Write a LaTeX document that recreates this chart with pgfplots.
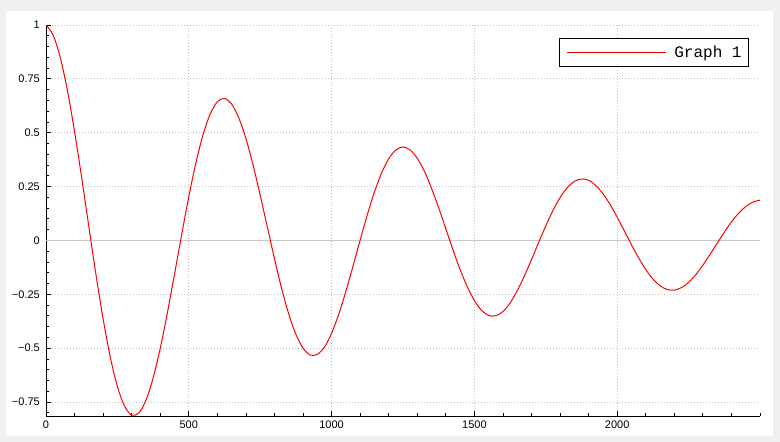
\documentclass[border=0pt]{standalone}
\usepackage{fontspec}
\setmainfont{Liberation Sans}
\newfontfamily\legfont{Liberation Mono}
\usepackage{pgfplots}
\pgfplotsset{compat=1.18}
\definecolor{bgout}{HTML}{F0F0F0}
\definecolor{gridc}{HTML}{C0C0C0}
\definecolor{zeroc}{HTML}{C8C8C8}
\begin{document}
\begin{tikzpicture}
\fill[bgout] (0,0) rectangle (780bp,442bp);
\fill[white] (6bp,6bp) rectangle (773bp,431bp);
\begin{axis}[
 scale only axis, width=714bp, height=391bp,
 at={(46bp,26bp)}, anchor=south west,
 xmin=0, xmax=2500, ymin=-0.815, ymax=1,
 axis x line*=bottom, axis y line*=left,
 axis line style={black, line width=1bp},
 tick align=inside,
 xtick={0,500,1000,1500,2000}, xticklabels={0,500,1000,1500,2000},
 ytick={-0.75,-0.5,-0.25,0,0.25,0.5,0.75,1},
 yticklabels={−0.75,−0.5,−0.25,0,0.25,0.5,0.75,1},
 minor xtick={0,100,...,2500},
 minor ytick={-0.8,-0.75,...,1.0},
 major tick length=5bp, minor tick length=3bp,
 tick style={black, line width=0.8bp},
 grid=major,
 major grid style={gridc, line width=0.8bp, dash pattern=on 1bp off 2bp},
 extra y ticks={0}, extra y tick labels={},
 extra y tick style={grid=major, major grid style={zeroc, solid, line width=1bp}, major tick length=0pt},
 tick label style={font=\fontsize{11bp}{13bp}\selectfont},
 yticklabel style={inner sep=0pt, xshift=-6bp},
 xticklabel style={inner sep=0pt, yshift=-5bp},
 legend style={at={(0.9846,0.9668)}, anchor=north east, draw=black, line width=0.8bp, fill=white,
   font=\legfont\fontsize{16bp}{18bp}\selectfont, inner xsep=7bp, inner ysep=7.5bp, column sep=8bp,
   nodes={inner sep=0pt}},
 legend image code/.code={\draw[red, line width=1bp] (0bp,0bp) -- (99bp,0bp);},
]
\addplot[red, line width=1bp, smooth] coordinates {
(0,1.000)(25,0.953)(50,0.849)(75,0.696)(100,0.505)(125,0.290)(150,0.064)(175,-0.159)(200,-0.364)(225,-0.541)
(250,-0.678)(275,-0.769)(300,-0.811)(325,-0.801)(350,-0.742)(375,-0.639)(400,-0.501)(425,-0.336)(450,-0.156)(475,0.027)
(500,0.203)(525,0.361)(550,0.491)(575,0.587)(600,0.644)(625,0.659)(650,0.633)(675,0.569)(700,0.473)(725,0.350)
(750,0.210)(775,0.062)(800,-0.085)(825,-0.223)(850,-0.342)(875,-0.436)(900,-0.500)(925,-0.532)(950,-0.529)(975,-0.495)
(1000,-0.431)(1025,-0.343)(1050,-0.236)(1075,-0.119)(1100,0.002)(1125,0.119)(1150,0.225)(1175,0.313)(1200,0.379)(1225,0.420)
(1250,0.434)(1275,0.420)(1300,0.381)(1325,0.321)(1350,0.242)(1375,0.151)(1400,0.054)(1425,-0.044)(1450,-0.135)(1475,-0.215)
(1500,-0.279)(1525,-0.325)(1550,-0.348)(1575,-0.350)(1600,-0.330)(1625,-0.290)(1650,-0.234)(1675,-0.165)(1700,-0.089)(1725,-0.009)
(1750,0.068)(1775,0.139)(1800,0.199)(1825,0.245)(1850,0.274)(1875,0.285)(1900,0.279)(1925,0.255)(1950,0.217)(1975,0.167)
(2000,0.108)(2025,0.044)(2050,-0.020)(2075,-0.081)(2100,-0.135)(2125,-0.179)(2150,-0.210)(2175,-0.228)(2200,-0.231)(2225,-0.219)
(2250,-0.195)(2275,-0.159)(2300,-0.115)(2325,-0.065)(2350,-0.013)(2375,0.038)(2400,0.086)(2425,0.126)(2450,0.157)(2475,0.178)
(2500,0.187)
};
\addlegendentry{Graph 1}
\end{axis}
\pgfresetboundingbox
\useasboundingbox (0,0) rectangle (780bp,442bp);
\end{tikzpicture}
\end{document}
